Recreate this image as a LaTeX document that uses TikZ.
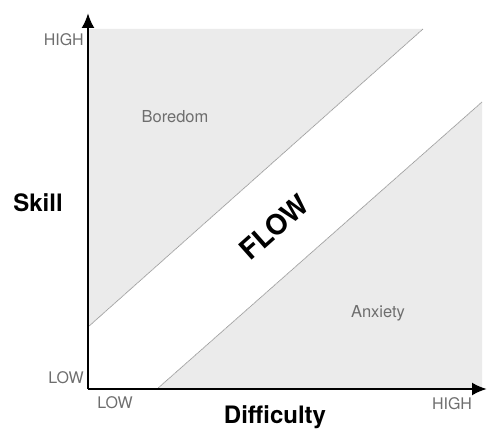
\documentclass[tikz,border=0pt]{standalone}
\usepackage{fontspec}
\setmainfont{TeX Gyre Heros}
\usetikzlibrary{arrows.meta}

\definecolor{zonegray}{HTML}{EBEBEB}
\definecolor{edgegray}{HTML}{A0A0A0}
\definecolor{labelgray}{HTML}{6E6E6E}

\tikzset{
  zone/.style={fill=zonegray},
  zoneedge/.style={draw=edgegray, line width=0.8pt, dash pattern=on 1.2pt off 0.5pt},
  axis/.style={line width=2.4pt, -{Latex[length=15pt,width=13pt]}},
  ticklabel/.style={text=labelgray, font=\fontsize{16}{16}\selectfont, inner sep=0pt},
  zonelabel/.style={text=labelgray, font=\fontsize{16.5}{16}\selectfont, inner sep=0pt, anchor=base},
  axislabel/.style={font=\fontsize{24}{24}\selectfont\bfseries, inner sep=0pt},
}

\begin{document}
\begin{tikzpicture}[x=1pt,y=1pt]
  \useasboundingbox (0,0) rectangle (488,432);

  % corners of the chart
  \coordinate (o) at (88,43);
  \coordinate (ytop) at (88,419);
  \coordinate (xend) at (487,43);

  % the two grey zones either side of the band
  \fill[zone] (88,403) -- (423,403) -- (88,105) -- cycle;
  \fill[zone] (157,43) -- (482,330) -- (482,43) -- cycle;
  \draw[zoneedge] (88,105) -- (423,403);
  \draw[zoneedge] (157,43) -- (482,330);

  % axes
  \draw[axis] (o) -- (ytop);
  \draw[axis] (o) -- (xend);

  \node[ticklabel, anchor=east] (yhigh) at (84,392) {HIGH};
  \node[ticklabel, anchor=east] (ylow) at (84,54) {LOW};
  \node[ticklabel] (xlow) at (115,29) {LOW};
  \node[ticklabel] (xhigh) at (452,28) {HIGH};

  \node[axislabel] (skill) at (38,229) {Skill};
  \node[axislabel, anchor=base] (difficulty) at (275,9) {Difficulty};

  \node[zonelabel] (boredom) at (175,309) {Boredom};
  \node[zonelabel] (anxiety) at (378,115) {Anxiety};
  \node[axislabel, font=\fontsize{28}{28}\selectfont\bfseries, rotate=41.6] (flow) at (274,205) {FLOW};
\end{tikzpicture}
\end{document}
